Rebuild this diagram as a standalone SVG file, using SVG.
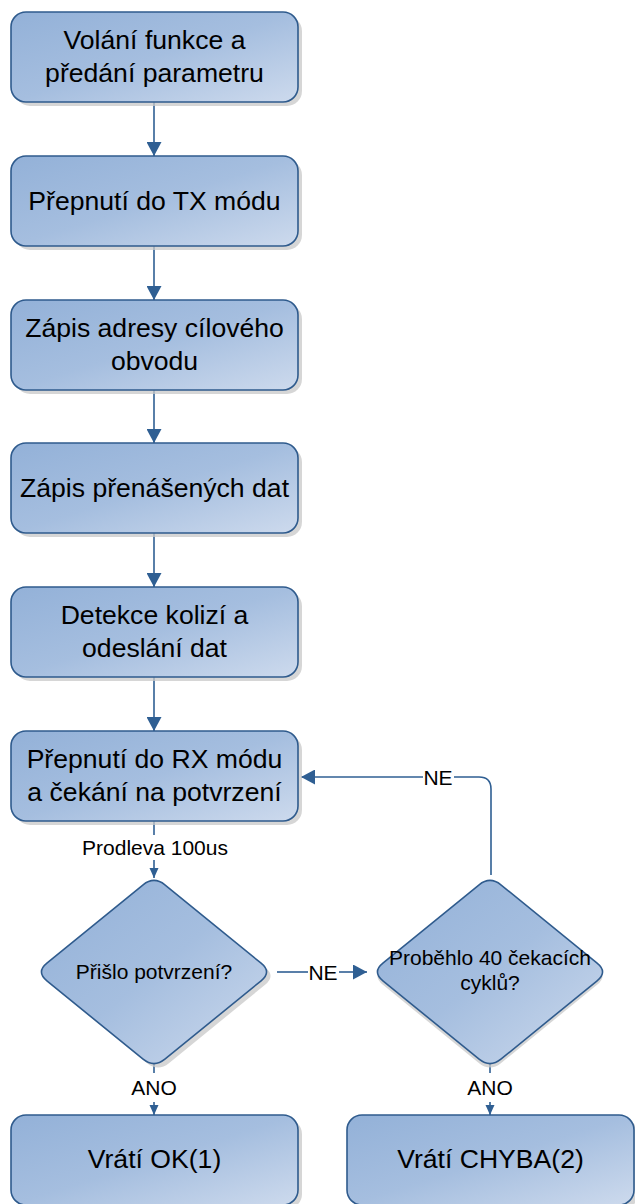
<svg xmlns="http://www.w3.org/2000/svg" width="635" height="1204" viewBox="0 0 635 1204">
<style>
.box{fill:url(#g);stroke:#2f5b8d;stroke-width:1.6}
.sh{fill:#c8c8c8;opacity:0.75}
.t{font-family:"Liberation Sans",Arial,sans-serif;font-size:26.6px;fill:#000;text-anchor:middle}
.td{font-family:"Liberation Sans",Arial,sans-serif;font-size:21px;fill:#000;text-anchor:middle}
.lbl{font-family:"Liberation Sans",Arial,sans-serif;font-size:21px;fill:#000;text-anchor:middle}
.c{fill:none;stroke:#2f5f93;stroke-width:1.6}
</style>
<defs>
<linearGradient id="g" x1="0" y1="0" x2="1" y2="1">
<stop offset="0" stop-color="#93b1d8"/>
<stop offset="0.5" stop-color="#a5bedf"/>
<stop offset="1" stop-color="#cddaed"/>
</linearGradient>
<marker id="a" markerUnits="userSpaceOnUse" markerWidth="15" markerHeight="15" refX="14" refY="7.5" orient="auto">
<path d="M0,0 L14,7.5 L0,15 z" fill="#2f5f93"/>
</marker>
<marker id="s" markerUnits="userSpaceOnUse" markerWidth="10" markerHeight="10" refX="10" refY="4.5" orient="auto">
<path d="M0,0 L10,4.5 L0,9 z" fill="#2f5f93"/>
</marker>
</defs>

<g id="connectors">
<line class="c" x1="154" y1="102" x2="154" y2="156" marker-end="url(#a)"/>
<line class="c" x1="154" y1="246" x2="154" y2="300" marker-end="url(#a)"/>
<line class="c" x1="154" y1="390" x2="154" y2="443" marker-end="url(#a)"/>
<line class="c" x1="154" y1="533" x2="154" y2="587" marker-end="url(#a)"/>
<line class="c" x1="154" y1="677" x2="154" y2="731" marker-end="url(#a)"/>
<line class="c" x1="154" y1="821" x2="154" y2="835"/>
<line class="c" x1="154" y1="860" x2="154" y2="878" marker-end="url(#s)"/>
<text class="lbl" x="155" y="855">Prodleva 100us</text>
<line class="c" x1="277" y1="972" x2="308" y2="972"/>
<line class="c" x1="339" y1="972" x2="367" y2="972" marker-end="url(#a)"/>
<text class="lbl" x="323" y="979.5">NE</text>
<path class="c" d="M491,875 L491,789 Q491,777 479,777 L454,777"/>
<line class="c" x1="423" y1="777" x2="301" y2="777" marker-end="url(#a)"/>
<text class="lbl" x="438" y="784.5">NE</text>
<line class="c" x1="154" y1="1064" x2="154" y2="1073"/>
<line class="c" x1="154" y1="1102" x2="154" y2="1115" marker-end="url(#s)"/>
<text class="lbl" x="154" y="1095">ANO</text>
<line class="c" x1="490" y1="1064" x2="490" y2="1073"/>
<line class="c" x1="490" y1="1102" x2="490" y2="1115" marker-end="url(#s)"/>
<text class="lbl" x="490" y="1095">ANO</text>
</g>

<g id="n1">
<rect class="sh" x="15" y="16" width="287" height="90" rx="15"/>
<rect class="box" x="11" y="12" width="287" height="90" rx="15"/>
<text class="t" x="154.5" y="49">Volání funkce a</text>
<text class="t" x="154.5" y="82">předání parametru</text>
</g>
<g id="n2">
<rect class="sh" x="15" y="160" width="287" height="90" rx="15"/>
<rect class="box" x="11" y="156" width="287" height="90" rx="15"/>
<text class="t" x="154.5" y="210">Přepnutí do TX módu</text>
</g>
<g id="n3">
<rect class="sh" x="15" y="304" width="287" height="90" rx="15"/>
<rect class="box" x="11" y="300" width="287" height="90" rx="15"/>
<text class="t" x="154.5" y="337">Zápis adresy cílového</text>
<text class="t" x="154.5" y="370">obvodu</text>
</g>
<g id="n4">
<rect class="sh" x="15" y="447" width="287" height="90" rx="15"/>
<rect class="box" x="11" y="443" width="287" height="90" rx="15"/>
<text class="t" x="154.5" y="497">Zápis přenášených dat</text>
</g>
<g id="n5">
<rect class="sh" x="15" y="591" width="287" height="90" rx="15"/>
<rect class="box" x="11" y="587" width="287" height="90" rx="15"/>
<text class="t" x="154.5" y="624">Detekce kolizí a</text>
<text class="t" x="154.5" y="657">odeslání dat</text>
</g>
<g id="n6">
<rect class="sh" x="15" y="735" width="287" height="90" rx="15"/>
<rect class="box" x="11" y="731" width="287" height="90" rx="15"/>
<text class="t" x="154.5" y="768">Přepnutí do RX módu</text>
<text class="t" x="154.5" y="801">a čekání na potvrzení</text>
</g>
<g id="d1">
<path class="sh" transform="translate(4,4)" d="M143.1,884.8 Q154,876 164.9,884.8 L261.1,963.2 Q272,972 261.1,980.8 L164.9,1059.2 Q154,1068 143.1,1059.2 L46.9,980.8 Q36,972 46.9,963.2 Z"/>
<path class="box" d="M143.1,884.8 Q154,876 164.9,884.8 L261.1,963.2 Q272,972 261.1,980.8 L164.9,1059.2 Q154,1068 143.1,1059.2 L46.9,980.8 Q36,972 46.9,963.2 Z"/>
<text class="td" x="154" y="979">Přišlo potvrzení?</text>
</g>
<g id="d2">
<path class="sh" transform="translate(340,4)" d="M139.1,884.8 Q150,876 160.9,884.8 L257.1,963.2 Q268,972 257.1,980.8 L160.9,1059.2 Q150,1068 139.1,1059.2 L42.9,980.8 Q32,972 42.9,963.2 Z"/>
<path class="box" transform="translate(336,0)" d="M143.1,884.8 Q154,876 164.9,884.8 L261.1,963.2 Q272,972 261.1,980.8 L164.9,1059.2 Q154,1068 143.1,1059.2 L46.9,980.8 Q36,972 46.9,963.2 Z"/>
<text class="td" x="490" y="965">Proběhlo 40 čekacích</text>
<text class="td" x="490" y="990">cyklů?</text>
</g>
<g id="n7">
<rect class="sh" x="15" y="1119" width="287" height="90" rx="15"/>
<rect class="box" x="11" y="1115" width="287" height="90" rx="15"/>
<text class="t" x="154.5" y="1168">Vrátí OK(1)</text>
</g>
<g id="n8">
<rect class="sh" x="351" y="1119" width="287" height="90" rx="15"/>
<rect class="box" x="347" y="1115" width="287" height="90" rx="15"/>
<text class="t" x="490.5" y="1168">Vrátí CHYBA(2)</text>
</g>
</svg>
